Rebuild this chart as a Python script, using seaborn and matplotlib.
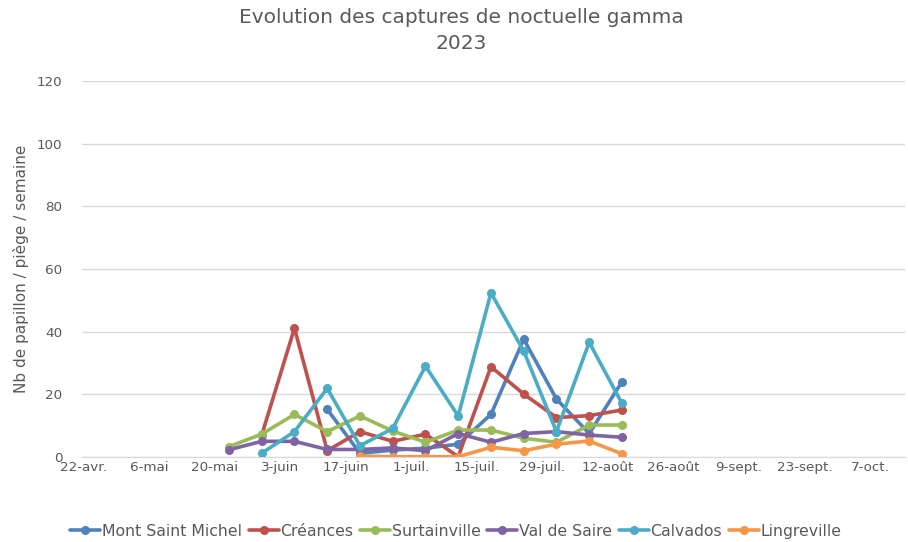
import pandas as pd
import numpy as np
import seaborn as sns
import matplotlib.pyplot as plt
import matplotlib.dates as mdates

# Weekly trap dates
dates = pd.date_range("2023-05-23", periods=13, freq="7D")
nan = np.nan

mont_saint_michel = [nan, nan, nan, 15.2, 1.2, 2.2, 2.8, 4.1, 13.6, 37.6, 18.5, 7.5, 24.0]
creances = [nan, 7.0, 41.1, 2.0, 8.1, 5.0, 7.3, 0.1, 28.8, 20.1, 12.6, 13.2, 15.0]
surtainville = [3.3, 7.3, 13.6, 8.1, 13.1, 8.3, 4.7, 8.6, 8.6, 6.0, 4.7, 10.2, 10.2]
val_de_saire = [2.3, 5.0, 5.0, 2.4, 2.4, 2.9, 2.0, 7.5, 4.7, 7.5, 8.1, 7.0, 6.3]
calvados = [nan, 1.2, 8.1, 21.9, 3.6, 9.1, 29.0, 13.1, 52.4, 33.8, 8.1, 36.6, 17.1]
lingreville = [nan, nan, nan, nan, 0.3, 0.1, 0.1, 0.1, 3.1, 2.0, 4.1, 5.1, 1.0]

sites = ["Mont Saint Michel", "Créances", "Surtainville", "Val de Saire", "Calvados", "Lingreville"]
colors = ["#4F81BD", "#C0504D", "#9BBB59", "#8064A2", "#4BACC6", "#F79646"]

tick_labels = ["22-avr.", "6-mai", "20-mai", "3-juin", "17-juin", "1-juil.", "15-juil.",
               "29-juil.", "12-août", "26-août", "9-sept.", "23-sept.", "7-oct."]

# long format table
series = [mont_saint_michel, creances, surtainville, val_de_saire, calvados, lingreville]
df = pd.concat([pd.DataFrame({"date": dates, "value": s, "site": name})
                for name, s in zip(sites, series)], ignore_index=True)
df = df.dropna()

sns.set_style("white")
plt.rcParams['font.family'] = ['DejaVu Sans']
grey = "#595959"

fig = plt.figure(figsize=(9.08, 5.42), dpi=100)
ax = fig.add_axes([82/908, (542-457)/542, (905-82)/908, (457-81)/542])

sns.lineplot(data=df, x="date", y="value", hue="site", hue_order=sites,
             palette=colors, marker="o", markersize=6.5, markeredgewidth=0,
             linewidth=2.6, ax=ax, legend=True)

# axes
ticks = pd.date_range("2023-04-22", periods=13, freq="14D")
ax.set_xticks(mdates.date2num(ticks))
ax.set_xticklabels(tick_labels)
ax.set_xlim(mdates.date2num(pd.Timestamp("2023-04-21 14:00")),
            mdates.date2num(pd.Timestamp("2023-10-14 12:00")))
ax.set_ylim(0, 120)
ax.set_yticks(range(0, 121, 20))
ax.tick_params(axis="both", length=0, labelsize=9.7, labelcolor=grey)
ax.tick_params(axis="y", pad=14)
ax.tick_params(axis="x", pad=3)
ax.grid(axis="y", color="#d9d9d9", linewidth=1)
for side in ["top", "right", "left"]:
    ax.spines[side].set_visible(False)
ax.spines["bottom"].set_color("#d9d9d9")
ax.set_xlabel("")
ax.set_ylabel("Nb de papillon / piège / semaine", color=grey, fontsize=11, labelpad=6)

fig.suptitle("Evolution des captures de noctuelle gamma\n2023", color=grey,
             fontsize=14.5, y=0.985, x=0.508, linespacing=1.45)

# legend at bottom
handles, labels = ax.get_legend_handles_labels()
ax.get_legend().remove()
fig.legend(handles, labels, loc="center", bbox_to_anchor=(0.502, 0.02), ncol=6,
           frameon=False, fontsize=11.3, handlelength=1.9, handletextpad=0.1,
           columnspacing=0.45, labelcolor=grey)

fig.savefig("out.png", dpi=100)
